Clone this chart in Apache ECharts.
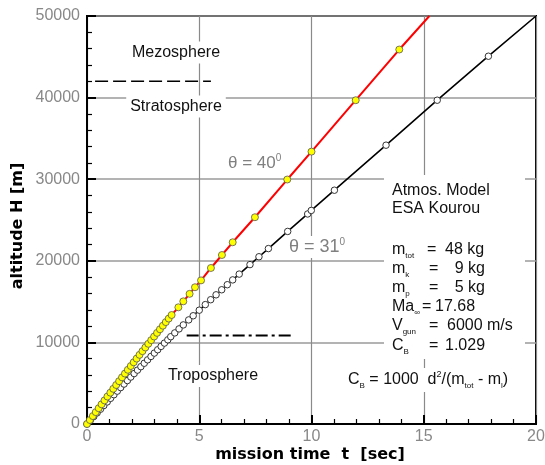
<!DOCTYPE html>
<html>
<head>
<meta charset="utf-8">
<script src="https://cdn.jsdelivr.net/npm/echarts@6/dist/echarts.min.js"></script>
<style>
html, body { margin: 0; padding: 0; background: #fff; }
#chart { width: 545px; height: 465px; }
</style>
</head>
<body>
<div id="chart"></div>
<script>
// theta = 40 deg trajectory (red line, yellow markers)
const t40 = [0, 0.13, 0.26, 0.39, 0.52, 0.65, 0.78, 0.91, 1.04, 1.17, 1.30, 1.43, 1.56, 1.69, 1.82, 1.95,
  2.08, 2.21, 2.34, 2.47, 2.60, 2.73, 2.86, 2.99, 3.12, 3.25, 3.38, 3.51, 3.64, 3.77,
  4.07, 4.29, 4.57, 4.81, 5.08, 5.52, 6.01, 6.49, 7.48, 8.92, 10.00, 11.97, 13.91]
const h40 = [0, 487, 971, 1454, 1935, 2414, 2892, 3367, 3841, 4312, 4782, 5250, 5716, 6180, 6643, 7103,
  7562, 8019, 8474, 8927, 9378, 9828, 10275, 10721, 11165, 11607, 12047, 12485, 12921, 13356,
  14300, 15030, 15950, 16760, 17600, 19120, 20710, 22270, 25340, 29960, 33380, 39680, 45890]
const end40 = [15.25, 50000]

// theta = 31 deg trajectory (black line, open markers)
const t31 = [0, 0.15, 0.30, 0.45, 0.60, 0.75, 0.90, 1.05, 1.20, 1.35, 1.50, 1.65, 1.80, 1.95, 2.10, 2.25,
  2.40, 2.55, 2.70, 2.85, 3.00, 3.15, 3.30, 3.45, 3.60, 3.73,
  3.91, 4.10, 4.29, 4.53, 4.73, 5.00, 5.27, 5.51, 5.75, 6.00, 6.25, 6.49, 6.78, 7.26, 7.66, 8.08,
  8.94, 9.83, 9.99, 11.02, 13.32, 15.60, 17.88]
const h31 = [0, 456, 910, 1362, 1812, 2259, 2704, 3146, 3587, 4025, 4460, 4894, 5325, 5754, 6180, 6604,
  7026, 7446, 7863, 8278, 8691, 9101, 9510, 9915, 10319, 10700,
  11165, 11655, 12143, 12756, 13265, 13949, 14630, 15232, 15831, 16452, 17069, 17660, 18369, 19534, 20496, 21497,
  23600, 25740, 26170, 28650, 34170, 39680, 45070]
const end31 = [20, 50000]

// layer boundaries drawn in the plot
const stratoT = [0.36, 5.52]
const stratoH = [42000, 42000]
const tropoT = [4.44, 9.2]
const tropoH = [10850, 10850]

const xMin = 0, xMax = 20, xStep = 5
const yMin = 0, yMax = 50000, yStep = 10000

const zip = (a, b) => a.map((v, i) => [v, b[i]])
const FONT = '"Liberation Sans", Arial, sans-serif'
const BOLD = 'bold 16px "DejaVu Sans", sans-serif'

const chart = echarts.init(document.getElementById('chart'))

const txt = (x, y, text, extra) => ({
  type: 'text', x: x, y: y, z: 10, silent: true,
  style: Object.assign({
    text: text, fill: '#111', font: '16px ' + FONT,
    align: 'left', verticalAlign: 'middle'
  }, extra || {})
})

const richStyles = {
  n: { fontSize: 16, fontFamily: FONT, fill: '#111', lineHeight: 20 },
  s: { fontSize: 8, fontFamily: FONT, fill: '#111', lineHeight: 8, verticalAlign: 'bottom' },
  p: { fontSize: 9, fontFamily: FONT, fill: '#111', lineHeight: 10, verticalAlign: 'top' }
}
const rtxt = (x, y, text) => txt(x, y, text, { rich: richStyles })

const rows = [
  // label, y, '=' x, value, value x, value align
  ['{n|m}{s|tot}', 250, 427, '48 kg', 445, 'left'],
  ['{n|m}{s|k}', 269, 429, '9 kg', 485, 'right'],
  ['{n|m}{s|p}', 288, 429, '5 kg', 485, 'right'],
  ['{n|Ma}{s|\u221e}', 307, 422, '17.68', 435, 'left'],
  ['{n|V}{s|gun}', 326, 429, '6000 m/s', 447, 'left'],
  ['{n|C}{s|B}', 346, 429, '1.029', 445, 'left']
]
const paramText = []
rows.forEach(r => {
  paramText.push(rtxt(392, r[1], r[0]))
  paramText.push(txt(r[2], r[1], '='))
  paramText.push(txt(r[4], r[1], r[3], { align: r[5] }))
})

const lineSeries = (data, color, width) => ({
  type: 'line', data: data, showSymbol: false, silent: true,
  lineStyle: { color: color, width: width }, z: 3
})

const axisCommon = {
  type: 'value',
  axisLine: { show: true, onZero: false, lineStyle: { color: '#000', width: 2 } },
  axisTick: { show: true, inside: true, length: 9, lineStyle: { color: '#000', width: 2 } },
  minorTick: { show: true, splitNumber: 5, length: 5, lineStyle: { color: '#000', width: 1.2 } }
}

chart.setOption({
  animation: false,
  textStyle: { fontFamily: FONT },
  grid: {
    left: 87, right: 9, top: 16, bottom: 41,
    show: true, borderColor: '#000', borderWidth: 2,
    outerBoundsMode: 'none'
  },
  xAxis: Object.assign({}, axisCommon, {
    min: xMin, max: xMax, interval: xStep,
    splitLine: { show: true, lineStyle: { color: '#8a8a8a', width: 1.2 } },
    axisLabel: { color: '#888', fontSize: 16, fontFamily: FONT, margin: 5 }
  }),
  yAxis: Object.assign({}, axisCommon, {
    min: yMin, max: yMax, interval: yStep,
    splitLine: { show: true, lineStyle: { color: '#9a9a9a', width: 1.5 } },
    axisLabel: { color: '#888', fontSize: 16, fontFamily: FONT, margin: 7, formatter: v => String(v) }
  }),
  graphic: [
    { type: 'rect', z: 1, silent: true, shape: { x: 384, y: 175, width: 141, height: 184 }, style: { fill: '#fff' } },
    { type: 'rect', z: 1, silent: true, shape: { x: 345, y: 368, width: 179, height: 24 }, style: { fill: '#fff' } },
    txt(310, 455, 'mission time  t  [sec]', { align: 'center', font: BOLD, fill: '#000' }),
    Object.assign(txt(17.5, 226, 'altitude H [m]', { align: 'center', font: BOLD, fill: '#000' }), { rotation: Math.PI / 2 }),
    txt(176, 52.5, 'Mezosphere', { align: 'center', backgroundColor: '#fff', padding: [3, 4] }),
    txt(176, 106.5, 'Stratosphere', { align: 'center', backgroundColor: '#fff', padding: [3, 4] }),
    txt(213, 376, 'Troposphere', { align: 'center', backgroundColor: '#fff', padding: [3, 4] }),
    txt(228, 163, '{t|\u03b8 = 40}{o|0}', {
      rich: {
        t: { fontSize: 17, fontFamily: FONT, fill: '#808080', lineHeight: 20 },
        o: { fontSize: 10, fontFamily: FONT, fill: '#808080', lineHeight: 12, verticalAlign: 'top' }
      }
    }),
    txt(288, 247, '{t|\u03b8 = 31}{o|0}', {
      backgroundColor: '#fff', padding: [1, 1],
      rich: {
        t: { fontSize: 18, fontFamily: FONT, fill: '#808080', lineHeight: 20 },
        o: { fontSize: 10, fontFamily: FONT, fill: '#808080', lineHeight: 12, verticalAlign: 'top' }
      }
    }),
    txt(392, 191, 'Atmos. Model'),
    txt(392, 209, 'ESA Kourou'),
    ...paramText,
    rtxt(348, 380, '{n|C}{s|B}{n| = 1000  d}{p|2}{n|/(m}{s|tot}{n| - m}{s|l}{n|)}')
  ],
  series: [
    lineSeries(zip(t31, h31).concat([end31]), '#000', 1.6),
    lineSeries(zip(t40, h40).concat([end40]), '#ff0000', 2),
    {
      type: 'scatter', data: zip(t31, h31), symbol: 'circle', symbolSize: 6.5, silent: true, z: 4,
      itemStyle: { color: '#fff', borderColor: '#333', borderWidth: 1, opacity: 1 }
    },
    {
      type: 'scatter', data: zip(t40, h40), symbol: 'circle', symbolSize: 7, silent: true, z: 4,
      itemStyle: { color: '#ffff00', borderColor: '#555', borderWidth: 0.8, opacity: 1 }
    },
    {
      type: 'line', data: zip(stratoT, stratoH), showSymbol: false, silent: true, z: 3,
      lineStyle: { color: '#000', width: 1.5, type: [13, 5] }
    },
    {
      type: 'line', data: zip(tropoT, tropoH), showSymbol: false, silent: true, z: 3,
      lineStyle: { color: '#000', width: 2, type: [12, 4, 3, 4] }
    }
  ]
})
</script>
</body>
</html>
